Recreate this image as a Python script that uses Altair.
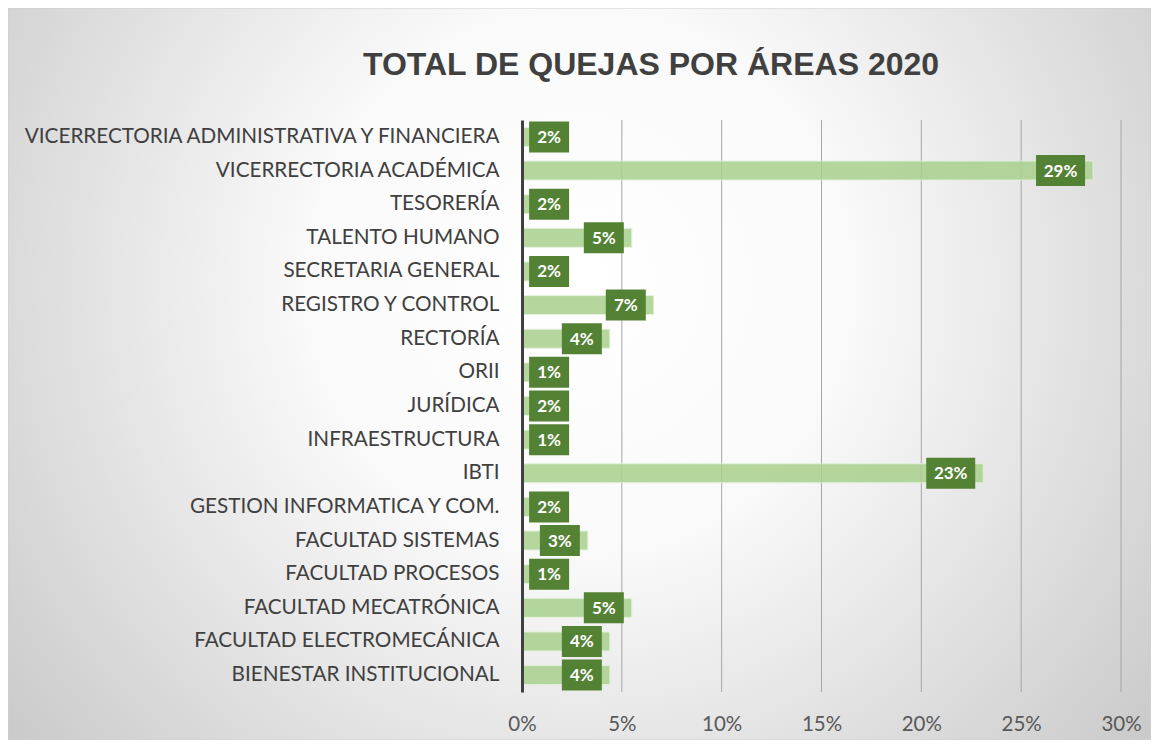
import altair as alt
import pandas as pd

areas = [
    "VICERRECTORIA ADMINISTRATIVA Y FINANCIERA",
    "VICERRECTORIA ACADÉMICA",
    "TESORERÍA",
    "TALENTO HUMANO",
    "SECRETARIA GENERAL",
    "REGISTRO Y CONTROL",
    "RECTORÍA",
    "ORII",
    "JURÍDICA",
    "INFRAESTRUCTURA",
    "IBTI",
    "GESTION INFORMATICA Y COM.",
    "FACULTAD SISTEMAS",
    "FACULTAD PROCESOS",
    "FACULTAD MECATRÓNICA",
    "FACULTAD ELECTROMECÁNICA",
    "BIENESTAR INSTITUCIONAL",
]
shares = [0.022, 0.286, 0.022, 0.055, 0.022, 0.066, 0.044, 0.011, 0.022,
          0.011, 0.231, 0.022, 0.033, 0.011, 0.055, 0.044, 0.044]
labels = ["2%", "29%", "2%", "5%", "2%", "7%", "4%", "1%", "2%",
          "1%", "23%", "2%", "3%", "1%", "5%", "4%", "4%"]
tick_values = [0, 0.05, 0.10, 0.15, 0.20, 0.25, 0.30]
title_text = "TOTAL DE QUEJAS POR ÁREAS 2020"

df = pd.DataFrame({"area": areas, "share": shares, "label": labels})
grid_df = pd.DataFrame({"share": tick_values[1:]})

W, H = 599, 572
PL, PT, PR, PB = 514, 112, 30, 48

FONT = "Lato"

x_scale = alt.Scale(domain=[0, 0.30], nice=False, zero=True)
y_scale = alt.Scale(domain=areas, paddingInner=0.435, paddingOuter=0.22)

x_axis = alt.Axis(
    format="%",
    values=tick_values,
    grid=False,
    domain=False,
    ticks=False,
    labelFont=FONT,
    labelFontSize=20.5,
    labelColor="#595959",
    labelPadding=22,
    labelFlush=False,
    labelOverlap=False,
    zindex=1,
    title=None,
)
y_axis = alt.Axis(
    grid=False,
    ticks=False,
    domain=True,
    domainColor="#404040",
    domainWidth=3,
    labelFont=FONT,
    labelFontSize=20.7,
    labelColor="#404040",
    labelPadding=23,
    labelLimit=600,
    zindex=1,
    title=None,
)

bg = alt.Chart(alt.Data(values=[{"k": 1}])).mark_rect(
    fill={
        "gradient": "radial",
        "x1": 0.5, "y1": 0.42, "r1": 0,
        "x2": 0.5, "y2": 0.42, "r2": 0.78,
        "stops": [
            {"offset": 0, "color": "#ffffff"},
            {"offset": 0.3, "color": "#fafafa"},
            {"offset": 1, "color": "#b9b9b9"},
        ],
    },
    stroke="#d0d0d0",
    strokeWidth=1,
).encode(
    x=alt.value(-PL),
    x2=alt.value(W + PR),
    y=alt.value(-PT),
    y2=alt.value(H + PB),
)

title = alt.Chart(alt.Data(values=[{"k": 1}])).mark_text(
    text=title_text,
    font="Liberation Sans",
    fontSize=32,
    fontWeight="bold",
    color="#404040",
    align="center",
    baseline="alphabetic",
).encode(
    x=alt.value(129),
    y=alt.value(-45),
)

grid = alt.Chart(grid_df).mark_rule(color="#a6a6a6", strokeWidth=1).encode(
    x=alt.X("share:Q", scale=x_scale, axis=x_axis)
)

base = alt.Chart(df)

bars = base.mark_bar(
    color="#a9d18e", opacity=0.85, stroke="#e2f0d9", strokeWidth=1
).encode(
    x=alt.X("share:Q", scale=x_scale, axis=x_axis),
    y=alt.Y("area:N", sort=areas, scale=y_scale, axis=y_axis),
)

anchored = base.transform_calculate(
    anchor="max(datum.share, 0.0276)",
    digits="length(datum.label)",
)

def box(filt, left_off):
    return anchored.transform_filter(filt).mark_bar(
        color="#548235", size=31, xOffset=left_off, x2Offset=-8
    ).encode(
        x=alt.X("anchor:Q", scale=x_scale, axis=x_axis),
        x2="anchor:Q",
        y=alt.Y("area:N", sort=areas, scale=y_scale, axis=y_axis),
    )

def txt(filt, dx):
    return anchored.transform_filter(filt).mark_text(
        color="white", font=FONT, fontWeight="bold", fontSize=17,
        align="center", baseline="middle", dx=dx, dy=1
    ).encode(
        x=alt.X("anchor:Q", scale=x_scale, axis=x_axis),
        y=alt.Y("area:N", sort=areas, scale=y_scale, axis=y_axis),
        text="label:N",
    )

box1 = box("datum.digits <= 2", -48)
box2 = box("datum.digits > 2", -57)
txt1 = txt("datum.digits <= 2", -28)
txt2 = txt("datum.digits > 2", -32.5)

chart = alt.layer(bg, title, grid, bars, box1, box2, txt1, txt2).properties(
    width=W,
    height=H,
    autosize=alt.AutoSizeParams(type="none"),
    padding={"left": PL, "top": PT, "right": PR, "bottom": PB},
).configure_view(stroke=None).configure(background="#ffffff")

chart.save("out.html", embed_options={"renderer": "svg", "actions": False})
